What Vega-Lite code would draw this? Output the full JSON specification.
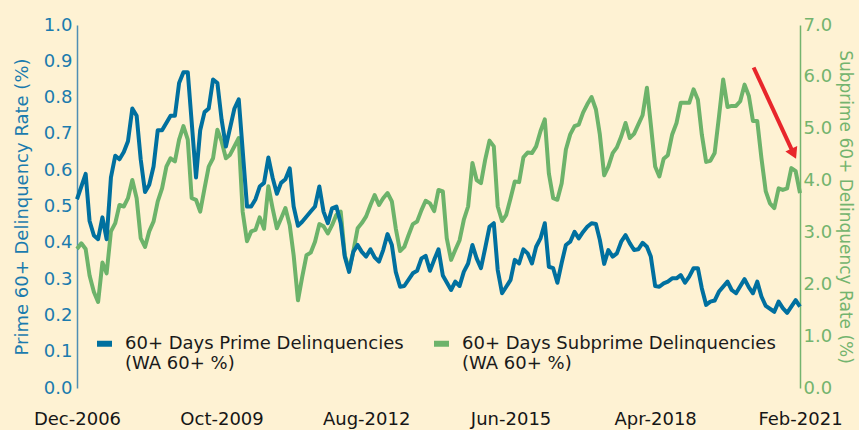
{
  "$schema": "https://vega.github.io/schema/vega-lite/v6.json",
  "width": 723,
  "height": 363,
  "autosize": {"type": "none"},
  "padding": {"left": 77, "top": 25, "right": 59, "bottom": 42},
  "background": "#FEF2D3",
  "config": {"view": {"stroke": null}, "font": "DejaVu Sans"},
  "datasets": {
    "prime": [
      {"date": "2006-12-01", "rate": 0.52}, {"date": "2007-02-01", "rate": 0.59}, {"date": "2007-03-01", "rate": 0.46},
      {"date": "2007-04-01", "rate": 0.42}, {"date": "2007-05-01", "rate": 0.41}, {"date": "2007-06-01", "rate": 0.47},
      {"date": "2007-07-01", "rate": 0.41}, {"date": "2007-08-01", "rate": 0.58}, {"date": "2007-09-01", "rate": 0.64},
      {"date": "2007-10-01", "rate": 0.63}, {"date": "2007-11-01", "rate": 0.65}, {"date": "2007-12-01", "rate": 0.68},
      {"date": "2008-01-01", "rate": 0.77}, {"date": "2008-02-01", "rate": 0.75}, {"date": "2008-03-01", "rate": 0.63},
      {"date": "2008-04-01", "rate": 0.54}, {"date": "2008-05-01", "rate": 0.56}, {"date": "2008-06-01", "rate": 0.61},
      {"date": "2008-07-01", "rate": 0.71}, {"date": "2008-08-01", "rate": 0.71}, {"date": "2008-10-01", "rate": 0.75},
      {"date": "2008-11-01", "rate": 0.75}, {"date": "2008-12-01", "rate": 0.84}, {"date": "2009-01-01", "rate": 0.87},
      {"date": "2009-02-01", "rate": 0.87}, {"date": "2009-04-01", "rate": 0.58}, {"date": "2009-05-01", "rate": 0.71},
      {"date": "2009-06-01", "rate": 0.76}, {"date": "2009-07-01", "rate": 0.77}, {"date": "2009-08-01", "rate": 0.85},
      {"date": "2009-09-01", "rate": 0.84}, {"date": "2009-10-01", "rate": 0.74}, {"date": "2009-11-01", "rate": 0.665},
      {"date": "2010-01-01", "rate": 0.77}, {"date": "2010-02-01", "rate": 0.795}, {"date": "2010-04-01", "rate": 0.50},
      {"date": "2010-05-01", "rate": 0.50}, {"date": "2010-06-01", "rate": 0.52}, {"date": "2010-07-01", "rate": 0.555},
      {"date": "2010-08-01", "rate": 0.565}, {"date": "2010-09-01", "rate": 0.635}, {"date": "2010-10-01", "rate": 0.58},
      {"date": "2010-11-01", "rate": 0.535}, {"date": "2010-12-01", "rate": 0.565}, {"date": "2011-01-01", "rate": 0.575},
      {"date": "2011-02-01", "rate": 0.605}, {"date": "2011-03-01", "rate": 0.50}, {"date": "2011-04-01", "rate": 0.447},
      {"date": "2011-05-01", "rate": 0.458}, {"date": "2011-07-01", "rate": 0.486}, {"date": "2011-08-01", "rate": 0.50},
      {"date": "2011-09-01", "rate": 0.555}, {"date": "2011-10-01", "rate": 0.486}, {"date": "2011-11-01", "rate": 0.454},
      {"date": "2011-12-01", "rate": 0.495}, {"date": "2012-01-01", "rate": 0.50}, {"date": "2012-02-01", "rate": 0.454},
      {"date": "2012-03-01", "rate": 0.362}, {"date": "2012-04-01", "rate": 0.32}, {"date": "2012-05-01", "rate": 0.375},
      {"date": "2012-06-01", "rate": 0.394}, {"date": "2012-07-01", "rate": 0.375}, {"date": "2012-08-01", "rate": 0.362},
      {"date": "2012-09-01", "rate": 0.382}, {"date": "2012-10-01", "rate": 0.36}, {"date": "2012-11-01", "rate": 0.348},
      {"date": "2012-12-01", "rate": 0.38}, {"date": "2013-01-01", "rate": 0.424}, {"date": "2013-02-01", "rate": 0.394},
      {"date": "2013-03-01", "rate": 0.32}, {"date": "2013-04-01", "rate": 0.279}, {"date": "2013-05-01", "rate": 0.281},
      {"date": "2013-07-01", "rate": 0.316}, {"date": "2013-08-01", "rate": 0.323}, {"date": "2013-09-01", "rate": 0.357},
      {"date": "2013-10-01", "rate": 0.364}, {"date": "2013-11-01", "rate": 0.323}, {"date": "2013-12-01", "rate": 0.353},
      {"date": "2014-01-01", "rate": 0.382}, {"date": "2014-02-01", "rate": 0.31}, {"date": "2014-04-01", "rate": 0.27},
      {"date": "2014-05-01", "rate": 0.293}, {"date": "2014-06-01", "rate": 0.281}, {"date": "2014-07-01", "rate": 0.32},
      {"date": "2014-08-01", "rate": 0.343}, {"date": "2014-09-01", "rate": 0.394}, {"date": "2014-10-01", "rate": 0.357},
      {"date": "2014-11-01", "rate": 0.33}, {"date": "2014-12-01", "rate": 0.385}, {"date": "2015-01-01", "rate": 0.444},
      {"date": "2015-02-01", "rate": 0.454}, {"date": "2015-03-01", "rate": 0.325}, {"date": "2015-04-01", "rate": 0.261},
      {"date": "2015-05-01", "rate": 0.279}, {"date": "2015-06-01", "rate": 0.298}, {"date": "2015-07-01", "rate": 0.353},
      {"date": "2015-08-01", "rate": 0.343}, {"date": "2015-09-01", "rate": 0.382}, {"date": "2015-10-01", "rate": 0.371},
      {"date": "2015-11-01", "rate": 0.343}, {"date": "2015-12-01", "rate": 0.389}, {"date": "2016-01-01", "rate": 0.412},
      {"date": "2016-02-01", "rate": 0.454}, {"date": "2016-03-01", "rate": 0.334}, {"date": "2016-04-01", "rate": 0.33},
      {"date": "2016-05-01", "rate": 0.29}, {"date": "2016-06-01", "rate": 0.345}, {"date": "2016-07-01", "rate": 0.394},
      {"date": "2016-08-01", "rate": 0.403}, {"date": "2016-09-01", "rate": 0.43}, {"date": "2016-10-01", "rate": 0.412},
      {"date": "2016-11-01", "rate": 0.43}, {"date": "2016-12-01", "rate": 0.444}, {"date": "2017-01-01", "rate": 0.454},
      {"date": "2017-02-01", "rate": 0.452}, {"date": "2017-03-01", "rate": 0.408}, {"date": "2017-04-01", "rate": 0.342},
      {"date": "2017-05-01", "rate": 0.38}, {"date": "2017-06-01", "rate": 0.362}, {"date": "2017-07-01", "rate": 0.371},
      {"date": "2017-08-01", "rate": 0.403}, {"date": "2017-09-01", "rate": 0.421}, {"date": "2017-10-01", "rate": 0.399},
      {"date": "2017-11-01", "rate": 0.38}, {"date": "2017-12-01", "rate": 0.382}, {"date": "2018-01-01", "rate": 0.40},
      {"date": "2018-02-01", "rate": 0.389}, {"date": "2018-03-01", "rate": 0.362}, {"date": "2018-04-01", "rate": 0.281},
      {"date": "2018-05-01", "rate": 0.279}, {"date": "2018-06-01", "rate": 0.288}, {"date": "2018-07-01", "rate": 0.293},
      {"date": "2018-08-01", "rate": 0.302}, {"date": "2018-09-01", "rate": 0.302}, {"date": "2018-10-01", "rate": 0.311},
      {"date": "2018-11-01", "rate": 0.29}, {"date": "2018-12-01", "rate": 0.307}, {"date": "2019-01-01", "rate": 0.33},
      {"date": "2019-02-01", "rate": 0.33}, {"date": "2019-03-01", "rate": 0.275}, {"date": "2019-04-01", "rate": 0.229},
      {"date": "2019-05-01", "rate": 0.238}, {"date": "2019-06-01", "rate": 0.241}, {"date": "2019-07-01", "rate": 0.265},
      {"date": "2019-09-01", "rate": 0.293}, {"date": "2019-10-01", "rate": 0.27}, {"date": "2019-11-01", "rate": 0.261},
      {"date": "2020-01-01", "rate": 0.30}, {"date": "2020-02-01", "rate": 0.277}, {"date": "2020-03-01", "rate": 0.261},
      {"date": "2020-04-01", "rate": 0.293}, {"date": "2020-05-01", "rate": 0.252}, {"date": "2020-06-01", "rate": 0.226},
      {"date": "2020-08-01", "rate": 0.21}, {"date": "2020-09-01", "rate": 0.238}, {"date": "2020-10-01", "rate": 0.22},
      {"date": "2020-11-01", "rate": 0.207}, {"date": "2021-01-01", "rate": 0.242}, {"date": "2021-02-01", "rate": 0.224}
    ],
    "subprime": [
      {"date": "2006-12-01", "rate": 2.68}, {"date": "2007-01-01", "rate": 2.79}, {"date": "2007-02-01", "rate": 2.68},
      {"date": "2007-03-01", "rate": 2.17}, {"date": "2007-04-01", "rate": 1.85}, {"date": "2007-05-01", "rate": 1.66},
      {"date": "2007-06-01", "rate": 2.42}, {"date": "2007-07-01", "rate": 2.21}, {"date": "2007-08-01", "rate": 3.02},
      {"date": "2007-09-01", "rate": 3.18}, {"date": "2007-10-01", "rate": 3.53}, {"date": "2007-11-01", "rate": 3.50},
      {"date": "2007-12-01", "rate": 3.66}, {"date": "2008-01-01", "rate": 4.01}, {"date": "2008-02-01", "rate": 3.66},
      {"date": "2008-03-01", "rate": 2.89}, {"date": "2008-04-01", "rate": 2.72}, {"date": "2008-05-01", "rate": 3.02},
      {"date": "2008-06-01", "rate": 3.21}, {"date": "2008-07-01", "rate": 3.60}, {"date": "2008-08-01", "rate": 3.85},
      {"date": "2008-09-01", "rate": 4.27}, {"date": "2008-10-01", "rate": 4.43}, {"date": "2008-11-01", "rate": 4.37},
      {"date": "2008-12-01", "rate": 4.79}, {"date": "2009-01-01", "rate": 5.05}, {"date": "2009-02-01", "rate": 4.79},
      {"date": "2009-03-01", "rate": 3.66}, {"date": "2009-04-01", "rate": 3.63}, {"date": "2009-05-01", "rate": 3.40},
      {"date": "2009-06-01", "rate": 3.85}, {"date": "2009-07-01", "rate": 4.27}, {"date": "2009-08-01", "rate": 4.43},
      {"date": "2009-09-01", "rate": 4.98}, {"date": "2009-10-01", "rate": 4.76}, {"date": "2009-11-01", "rate": 4.43},
      {"date": "2009-12-01", "rate": 4.50}, {"date": "2010-02-01", "rate": 4.82}, {"date": "2010-03-01", "rate": 3.40},
      {"date": "2010-04-01", "rate": 2.83}, {"date": "2010-05-01", "rate": 3.02}, {"date": "2010-06-01", "rate": 3.05},
      {"date": "2010-07-01", "rate": 3.29}, {"date": "2010-08-01", "rate": 3.07}, {"date": "2010-09-01", "rate": 3.89},
      {"date": "2010-10-01", "rate": 3.47}, {"date": "2010-11-01", "rate": 3.08}, {"date": "2010-12-01", "rate": 3.27},
      {"date": "2011-01-01", "rate": 3.47}, {"date": "2011-02-01", "rate": 3.14}, {"date": "2011-03-01", "rate": 2.56},
      {"date": "2011-04-01", "rate": 1.69}, {"date": "2011-05-01", "rate": 2.14}, {"date": "2011-06-01", "rate": 2.56},
      {"date": "2011-07-01", "rate": 2.61}, {"date": "2011-08-01", "rate": 2.82}, {"date": "2011-09-01", "rate": 3.16},
      {"date": "2011-10-01", "rate": 3.12}, {"date": "2011-11-01", "rate": 2.98}, {"date": "2011-12-01", "rate": 3.14},
      {"date": "2012-01-01", "rate": 3.34}, {"date": "2012-02-01", "rate": 3.40}, {"date": "2012-03-01", "rate": 2.56},
      {"date": "2012-04-01", "rate": 2.29}, {"date": "2012-05-01", "rate": 2.63}, {"date": "2012-06-01", "rate": 3.08},
      {"date": "2012-07-01", "rate": 3.18}, {"date": "2012-08-01", "rate": 3.31}, {"date": "2012-09-01", "rate": 3.53},
      {"date": "2012-10-01", "rate": 3.72}, {"date": "2012-11-01", "rate": 3.53}, {"date": "2012-12-01", "rate": 3.66},
      {"date": "2013-01-01", "rate": 3.76}, {"date": "2013-02-01", "rate": 3.60}, {"date": "2013-03-01", "rate": 3.08},
      {"date": "2013-04-01", "rate": 2.64}, {"date": "2013-05-01", "rate": 2.72}, {"date": "2013-06-01", "rate": 2.95},
      {"date": "2013-07-01", "rate": 3.16}, {"date": "2013-08-01", "rate": 3.21}, {"date": "2013-09-01", "rate": 3.43},
      {"date": "2013-10-01", "rate": 3.61}, {"date": "2013-11-01", "rate": 3.56}, {"date": "2013-12-01", "rate": 3.41},
      {"date": "2014-01-01", "rate": 3.82}, {"date": "2014-02-01", "rate": 3.79}, {"date": "2014-03-01", "rate": 2.89},
      {"date": "2014-04-01", "rate": 2.47}, {"date": "2014-05-01", "rate": 2.66}, {"date": "2014-06-01", "rate": 2.85},
      {"date": "2014-07-01", "rate": 3.24}, {"date": "2014-08-01", "rate": 3.50}, {"date": "2014-09-01", "rate": 4.34},
      {"date": "2014-10-01", "rate": 4.01}, {"date": "2014-11-01", "rate": 3.95}, {"date": "2014-12-01", "rate": 4.40},
      {"date": "2015-01-01", "rate": 4.77}, {"date": "2015-02-01", "rate": 4.66}, {"date": "2015-03-01", "rate": 3.50},
      {"date": "2015-04-01", "rate": 3.22}, {"date": "2015-05-01", "rate": 3.34}, {"date": "2015-06-01", "rate": 3.66},
      {"date": "2015-07-01", "rate": 3.98}, {"date": "2015-08-01", "rate": 3.97}, {"date": "2015-09-01", "rate": 4.45},
      {"date": "2015-10-01", "rate": 4.54}, {"date": "2015-11-01", "rate": 4.53}, {"date": "2015-12-01", "rate": 4.66},
      {"date": "2016-01-01", "rate": 4.95}, {"date": "2016-02-01", "rate": 5.18}, {"date": "2016-03-01", "rate": 4.14},
      {"date": "2016-04-01", "rate": 3.66}, {"date": "2016-05-01", "rate": 3.63}, {"date": "2016-06-01", "rate": 3.95},
      {"date": "2016-07-01", "rate": 4.60}, {"date": "2016-08-01", "rate": 4.89}, {"date": "2016-09-01", "rate": 5.05},
      {"date": "2016-10-01", "rate": 5.08}, {"date": "2016-11-01", "rate": 5.31}, {"date": "2016-12-01", "rate": 5.47},
      {"date": "2017-01-01", "rate": 5.61}, {"date": "2017-02-01", "rate": 5.37}, {"date": "2017-03-01", "rate": 4.89},
      {"date": "2017-04-01", "rate": 4.10}, {"date": "2017-05-01", "rate": 4.27}, {"date": "2017-06-01", "rate": 4.53},
      {"date": "2017-07-01", "rate": 4.64}, {"date": "2017-08-01", "rate": 4.85}, {"date": "2017-09-01", "rate": 5.11},
      {"date": "2017-10-01", "rate": 4.82}, {"date": "2017-11-01", "rate": 4.90}, {"date": "2017-12-01", "rate": 5.08},
      {"date": "2018-01-01", "rate": 5.26}, {"date": "2018-02-01", "rate": 5.79}, {"date": "2018-03-01", "rate": 5.08},
      {"date": "2018-04-01", "rate": 4.27}, {"date": "2018-05-01", "rate": 4.08}, {"date": "2018-06-01", "rate": 4.42},
      {"date": "2018-07-01", "rate": 4.49}, {"date": "2018-08-01", "rate": 4.89}, {"date": "2018-09-01", "rate": 5.11},
      {"date": "2018-10-01", "rate": 5.50}, {"date": "2018-11-01", "rate": 5.50}, {"date": "2018-12-01", "rate": 5.50},
      {"date": "2019-01-01", "rate": 5.76}, {"date": "2019-02-01", "rate": 5.56}, {"date": "2019-03-01", "rate": 4.89},
      {"date": "2019-04-01", "rate": 4.36}, {"date": "2019-05-01", "rate": 4.38}, {"date": "2019-06-01", "rate": 4.53},
      {"date": "2019-07-01", "rate": 5.21}, {"date": "2019-08-01", "rate": 5.95}, {"date": "2019-09-01", "rate": 5.42},
      {"date": "2019-10-01", "rate": 5.44}, {"date": "2019-11-01", "rate": 5.44}, {"date": "2019-12-01", "rate": 5.53},
      {"date": "2020-01-01", "rate": 5.85}, {"date": "2020-02-01", "rate": 5.63}, {"date": "2020-03-01", "rate": 5.15},
      {"date": "2020-04-01", "rate": 5.15}, {"date": "2020-05-01", "rate": 4.43}, {"date": "2020-06-01", "rate": 3.79},
      {"date": "2020-07-01", "rate": 3.56}, {"date": "2020-08-01", "rate": 3.47}, {"date": "2020-09-01", "rate": 3.85},
      {"date": "2020-10-01", "rate": 3.82}, {"date": "2020-11-01", "rate": 3.85}, {"date": "2020-12-01", "rate": 4.24},
      {"date": "2021-01-01", "rate": 4.18}, {"date": "2021-02-01", "rate": 3.76}
    ],
    "arrow": [
      {"date": "2020-03-06", "rate": 6.18, "date2": "2020-12-12", "rate2": 4.55}
    ]
  },
  "layer": [
    {
      "layer": [
        {
          "data": {"name": "subprime"},
          "mark": {"type": "line", "strokeWidth": 4, "strokeJoin": "round"},
          "encoding": {
            "x": {
              "field": "date", "type": "temporal",
              "scale": {"type": "utc", "domain": [{"year": 2006, "month": 12, "date": 1, "utc": true}, {"year": 2021, "month": 2, "date": 1, "utc": true}], "nice": false},
              "axis": {
                "title": null, "domain": false, "ticks": false, "grid": false,
                "values": [
                  {"year": 2006, "month": 12, "date": 1, "utc": true},
                  {"year": 2009, "month": 10, "date": 1, "utc": true},
                  {"year": 2012, "month": 8, "date": 1, "utc": true},
                  {"year": 2015, "month": 6, "date": 1, "utc": true},
                  {"year": 2018, "month": 4, "date": 1, "utc": true},
                  {"year": 2021, "month": 2, "date": 1, "utc": true}
                ],
                "format": "%b-%Y", "labelFlush": false, "labelOverlap": false,
                "labelFont": "DejaVu Sans", "labelFontSize": 18, "labelColor": "#161616",
                "labelPadding": 22, "labelDx": 5
              }
            },
            "y": {
              "field": "rate", "type": "quantitative",
              "scale": {"domain": [0, 7], "nice": false},
              "axis": {
                "orient": "right", "title": "Subprime 60+ Delinquency Rate (%)",
                "values": [0, 1, 2, 3, 4, 5, 6, 7], "format": ".1f",
                "grid": false, "ticks": false, "domainColor": "#74B46E", "domainWidth": 1.5,
                "labelFont": "DejaVu Sans", "labelFontSize": 18, "labelColor": "#74B46E", "labelPadding": 3,
                "titleFont": "DejaVu Sans", "titleFontSize": 17, "titleFontWeight": "normal", "titleColor": "#74B46E", "titlePadding": 4
              }
            },
            "color": {"datum": "subprime", "type": "nominal"}
          }
        },
        {
          "data": {"name": "arrow"},
          "mark": {"type": "rule", "color": "#E8262B", "strokeWidth": 4},
          "encoding": {
            "x": {"field": "date", "type": "temporal", "scale": {"type": "utc"}},
            "x2": {"field": "date2"},
            "y": {"field": "rate", "type": "quantitative"},
            "y2": {"field": "rate2"}
          }
        },
        {
          "data": {"name": "arrow"},
          "mark": {"type": "point", "shape": "triangle", "filled": true, "color": "#E8262B", "opacity": 1, "size": 170, "angle": 155},
          "encoding": {
            "x": {"field": "date2", "type": "temporal", "scale": {"type": "utc"}},
            "y": {"field": "rate2", "type": "quantitative"}
          }
        }
      ]
    },
    {
      "data": {"name": "prime"},
      "mark": {"type": "line", "strokeWidth": 4, "strokeJoin": "round"},
      "encoding": {
        "x": {"field": "date", "type": "temporal", "scale": {"type": "utc"}},
        "y": {
          "field": "rate", "type": "quantitative",
          "scale": {"domain": [0, 1], "nice": false},
          "axis": {
            "orient": "left", "title": "Prime 60+ Delinquency Rate (%)",
            "values": [0, 0.1, 0.2, 0.3, 0.4, 0.5, 0.6, 0.7, 0.8, 0.9, 1.0], "format": ".1f",
            "grid": false, "ticks": false, "domainColor": "#4F8FB4", "domainWidth": 1.5,
            "labelFont": "DejaVu Sans", "labelFontSize": 18, "labelColor": "#1B7BAE", "labelPadding": 5,
            "titleFont": "DejaVu Sans", "titleFontSize": 18, "titleFontWeight": "normal", "titleColor": "#1B7BAE", "titlePadding": 12
          }
        },
        "color": {
          "datum": "prime", "type": "nominal",
          "scale": {"domain": ["prime", "subprime"], "range": ["#00709F", "#6DB36A"]},
          "legend": {
            "orient": "none", "legendX": 17, "legendY": 308, "direction": "horizontal", "title": null,
            "padding": 0, "symbolType": "stroke", "symbolSize": 225, "symbolStrokeWidth": 6,
            "labelFont": "DejaVu Sans", "labelFontSize": 18, "labelColor": "#1A1A1A", "labelLimit": 500,
            "labelOffset": 10, "columnPadding": 18,
            "labelExpr": "datum.value == 'prime' ? ['60+ Days Prime Delinquencies', '(WA 60+ %)'] : ['60+ Days Subprime Delinquencies', '(WA 60+ %)']"
          }
        }
      }
    }
  ],
  "resolve": {"scale": {"y": "independent"}}
}
